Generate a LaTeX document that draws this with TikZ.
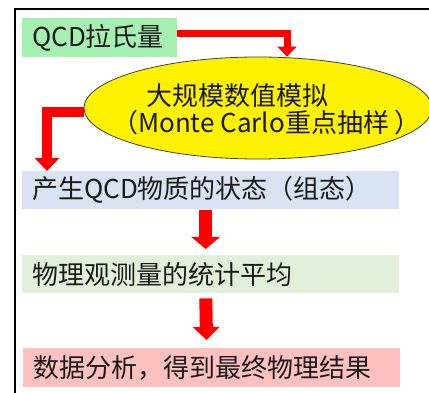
\documentclass[tikz,border=0pt]{standalone}
\usepackage{fontspec}
\setmainfont{Noto Sans CJK SC}
\usetikzlibrary{shapes.geometric,arrows.meta}
\definecolor{gA}{HTML}{A6F0B2}
\definecolor{bA}{HTML}{DAE3F3}
\definecolor{gB}{HTML}{E2F0D9}
\definecolor{pA}{HTML}{FFC0C0}
\definecolor{txtc}{HTML}{1A1A1A}
\definecolor{ellline}{HTML}{404040}
\tikzset{
  txt/.style={inner sep=0pt, text=txtc, font=\fontsize{26}{28}\selectfont},
  boxnode/.style={txt, inner xsep=10pt, inner ysep=0pt, align=left, anchor=north west},
  redarrow/.style={draw=red, line join=miter},
}
\begin{document}
\begin{tikzpicture}[x=1pt,y=-1pt]
\useasboundingbox (0,0) rectangle (429,393);
\fill[white] (0,0) rectangle (429,393);
% frame
\draw[line width=2.2pt, black] (15,400) -- (15,9) -- (440,9);
% boxes
\node[boxnode, fill=gA, text width=135pt, minimum height=39pt] (box1) at (22,18) {QCD拉氏量};
\node[boxnode, fill=bA, text width=357pt, minimum height=38pt] (box2) at (22,171) {产生QCD物质的状态（组态）};
\node[boxnode, fill=gB, text width=357pt, minimum height=38pt] (box3) at (22,255) {物理观测量的统计平均};
\node[boxnode, fill=pA, text width=357pt, minimum height=39pt] (box4) at (23,348) {数据分析，得到最终物理结果};
% ellipse
\node[ellipse, draw=ellline, line width=0.8pt, fill=yellow, minimum width=348pt, minimum height=102pt, inner sep=0pt] (ell) at (258,108) {};
\node[txt, anchor=west] (l1) at (146,96) {大规模数值模拟};
\node[txt, anchor=west] (l2) at (112,123) {（Monte Carlo重点抽样 ）};
% arrows
\coordinate (a1) at (287,33.5);
\draw[redarrow, line width=7pt, -{Triangle[width=19pt,length=10pt]}] (box1.east |- a1) -- (a1) -- (a1 |- ell.north);
\coordinate (a2) at (47,112);
\draw[redarrow, line width=10pt, -{Triangle[width=24pt,length=13pt]}] (ell.west |- a2) -- (a2) -- (a2 |- box2.north);
\draw[redarrow, line width=13pt, shorten <=1pt, shorten >=6pt, -{Triangle[width=28pt,length=12pt]}] ([xshift=-5pt]box2.south) -- ([xshift=-5pt]box3.north);
\draw[redarrow, line width=13pt, shorten <=5pt, shorten >=8pt, -{Triangle[width=26pt,length=13pt]}] ([xshift=-5pt]box3.south) -- ([xshift=-5pt]box4.north);
\end{tikzpicture}
\end{document}
